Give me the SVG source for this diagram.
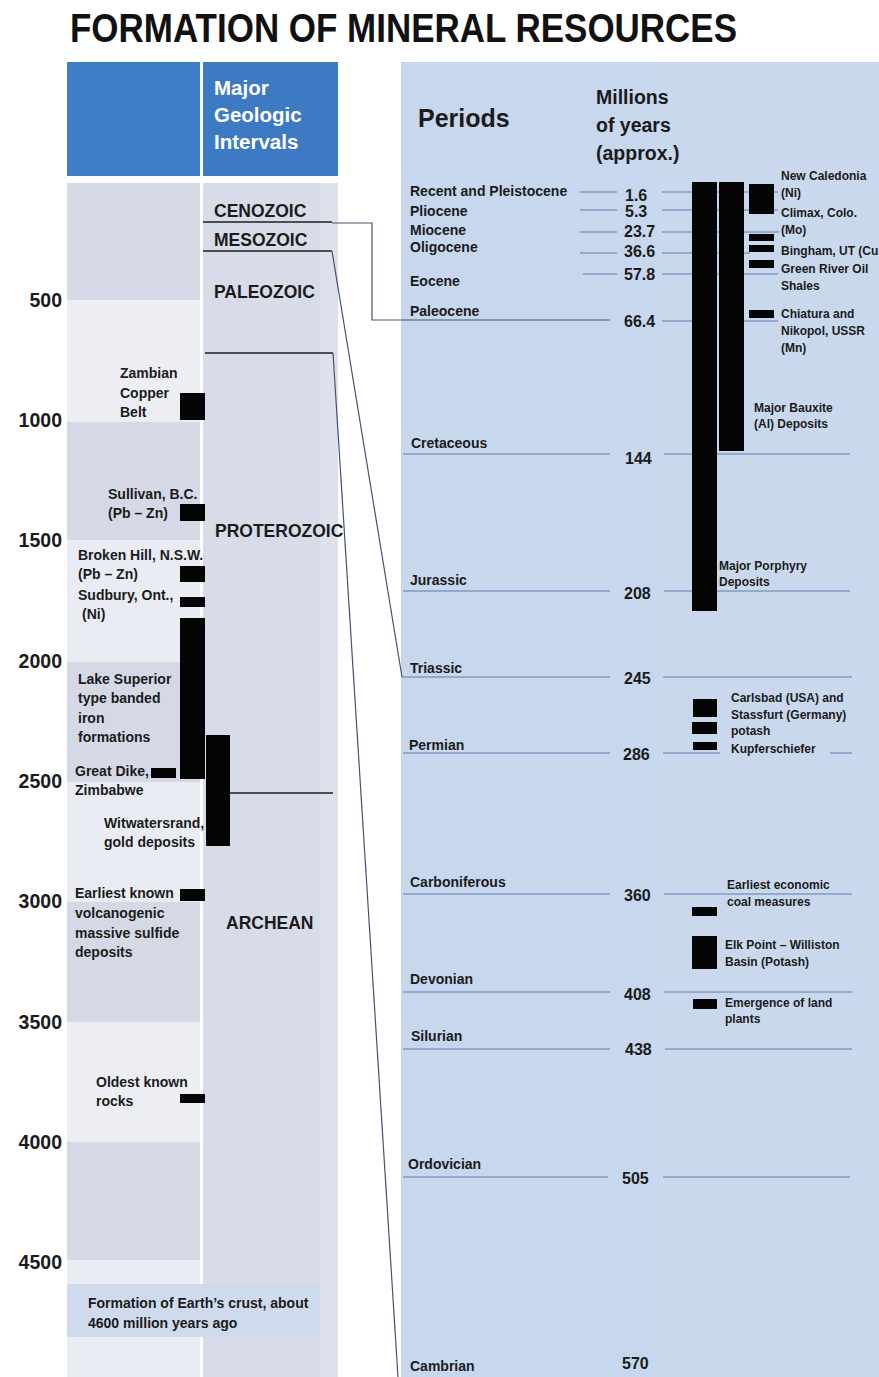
<svg xmlns="http://www.w3.org/2000/svg" width="879" height="1377" viewBox="0 0 879 1377">
<style>
text{font-family:"Liberation Sans",Arial,sans-serif;font-weight:bold;fill:#1b1b1b}
.ttl{font-size:40px;fill:#111}
.hd{font-size:20.5px;fill:#fff}
.ax{font-size:19.5px;text-anchor:end}
.era{font-size:17.5px}
.lab{font-size:14px}
.per{font-size:14px}
.num{font-size:16px}
.rl{font-size:12px}
.big{font-size:25px}
.my{font-size:19.5px}
.bar{fill:#050505}
.pl{stroke:#5f7bab;stroke-width:1.2;fill:none}
.el{stroke:#1e1e1e;stroke-width:1.3;fill:none}
.cn{stroke:#44546e;stroke-width:1.2;fill:none}
</style>
<rect x="0" y="0" width="879" height="1377" fill="#ffffff"/>

<g id="title"><text class="ttl" x="70" y="42" textLength="667" lengthAdjust="spacingAndGlyphs">FORMATION OF MINERAL RESOURCES</text></g>

<g id="left-panel">
<rect x="67" y="62" width="133" height="114" fill="#3f7dc6"/>
<rect x="203" y="62" width="135" height="114" fill="#3d7ac3"/>
<text class="hd" x="214" y="95">Major</text>
<text class="hd" x="214" y="122">Geologic</text>
<text class="hd" x="214" y="149">Intervals</text>
<rect x="67" y="183" width="133" height="117" fill="#d5dae6"/>
<rect x="67" y="300" width="133" height="122" fill="#eceef3"/>
<rect x="67" y="422" width="133" height="118" fill="#d4d9e5"/>
<rect x="67" y="540" width="133" height="122" fill="#e9ecf2"/>
<rect x="67" y="662" width="133" height="120" fill="#d4d9e5"/>
<rect x="67" y="782" width="133" height="120" fill="#e9ecf2"/>
<rect x="67" y="902" width="133" height="120" fill="#d4d9e5"/>
<rect x="67" y="1022" width="133" height="120" fill="#eceef3"/>
<rect x="67" y="1142" width="133" height="118" fill="#d4d9e5"/>
<rect x="67" y="1260" width="133" height="117" fill="#e9ecf2"/>
<rect x="203" y="183" width="117" height="1194" fill="#d8dbe8"/>
<rect x="320" y="183" width="18" height="1194" fill="#dde1ec"/>
<rect x="67" y="1284" width="253" height="53" fill="#cfdbec"/>
</g>

<g id="left-axis">
<text class="ax" x="62" y="307">500</text>
<text class="ax" x="62" y="427">1000</text>
<text class="ax" x="62" y="547">1500</text>
<text class="ax" x="62" y="668">2000</text>
<text class="ax" x="62" y="788">2500</text>
<text class="ax" x="62" y="908">3000</text>
<text class="ax" x="62" y="1029">3500</text>
<text class="ax" x="62" y="1149">4000</text>
<text class="ax" x="62" y="1269">4500</text>
</g>

<g id="eras">
<text class="era" x="214" y="217">CENOZOIC</text>
<text class="era" x="214" y="246">MESOZOIC</text>
<text class="era" x="214" y="298">PALEOZOIC</text>
<text class="era" x="215" y="537">PROTEROZOIC</text>
<text class="era" x="226" y="929">ARCHEAN</text>
<path class="el" d="M205 353H333"/>
<path class="el" d="M230 793H333"/>
</g>

<g id="dep-zambian"><rect class="bar" x="180" y="393" width="25" height="27"/>
<text class="lab" x="120" y="378">Zambian</text><text class="lab" x="120" y="398">Copper</text><text class="lab" x="120" y="417">Belt</text></g>
<g id="dep-sullivan"><rect class="bar" x="180" y="504" width="25" height="17"/>
<text class="lab" x="108" y="499">Sullivan, B.C.</text><text class="lab" x="108" y="518">(Pb – Zn)</text></g>
<g id="dep-brokenhill"><rect class="bar" x="180" y="566" width="25" height="16"/>
<text class="lab" x="78" y="560">Broken Hill, N.S.W.</text><text class="lab" x="78" y="579">(Pb – Zn)</text></g>
<g id="dep-sudbury"><rect class="bar" x="180" y="597" width="25" height="10"/>
<text class="lab" x="78" y="600">Sudbury, Ont.,</text><text class="lab" x="82" y="619">(Ni)</text></g>
<g id="dep-lakesuperior"><rect class="bar" x="180" y="618" width="25" height="161"/>
<text class="lab" x="78" y="684">Lake Superior</text><text class="lab" x="78" y="703">type banded</text><text class="lab" x="78" y="723">iron</text><text class="lab" x="78" y="742">formations</text></g>
<g id="dep-greatdike"><rect class="bar" x="151" y="768" width="25" height="10"/>
<text class="lab" x="75" y="776">Great Dike,</text><text class="lab" x="75" y="795">Zimbabwe</text></g>
<g id="dep-witwatersrand"><rect class="bar" x="206" y="735" width="24" height="111"/>
<text class="lab" x="104" y="828">Witwatersrand,</text><text class="lab" x="104" y="847">gold deposits</text></g>
<g id="dep-vms"><rect class="bar" x="180" y="889" width="25" height="12"/>
<text class="lab" x="75" y="898">Earliest known</text><text class="lab" x="75" y="918">volcanogenic</text><text class="lab" x="75" y="938">massive sulfide</text><text class="lab" x="75" y="957">deposits</text></g>
<g id="dep-oldest"><rect class="bar" x="180" y="1094" width="25" height="9"/>
<text class="lab" x="96" y="1087">Oldest known</text><text class="lab" x="96" y="1106">rocks</text></g>
<g id="crust"><text class="lab" x="88" y="1308">Formation of Earth’s crust, about</text><text class="lab" x="88" y="1328">4600 million years ago</text></g>

<g id="right-panel">
<rect x="401" y="62" width="254" height="1315" fill="#c7d7ee"/>
<rect x="655" y="62" width="224" height="1315" fill="#cad8ed"/>
<text class="big" x="418" y="127">Periods</text>
<text class="my" x="596" y="104">Millions</text>
<text class="my" x="596" y="132">of years</text>
<text class="my" x="596" y="160">(approx.)</text>
</g>

<g id="period-lines">
<path class="pl" d="M580 192H617M662 192H778"/>
<path class="pl" d="M580 210H617M662 210H778"/>
<path class="pl" d="M580 232H617M662 232H779"/>
<path class="pl" d="M580 253H617M662 253H750"/>
<path class="pl" d="M583 274H617M662 274H778"/>
<path class="pl" d="M662 321H692M743 321H778"/>
<path class="pl" d="M403 454H610M664 454H850"/>
<path class="pl" d="M403 591H610M664 591H850"/>
<path class="pl" d="M402 677H610M663 677H852"/>
<path class="pl" d="M403 753H610M663 753H720M830 753H852"/>
<path class="pl" d="M403 894H610M664 894H852"/>
<path class="pl" d="M403 992H610M664 992H852"/>
<path class="pl" d="M403 1049H610M665 1049H852"/>
<path class="pl" d="M403 1177H608M663 1177H850"/>
</g>

<g id="connectors">
<path class="el" d="M203 222H332"/>
<path class="cn" d="M332 223H372V320H610"/>
<path class="el" d="M203 251H332"/>
<path class="cn" d="M332 251L402 677"/>
<path class="cn" d="M333 353L398 1377"/>
</g>

<g id="periods">
<g id="p-recent"><text class="per" x="410" y="196">Recent and Pleistocene</text><text class="num" x="625" y="201">1.6</text></g>
<g id="p-pliocene"><text class="per" x="410" y="216">Pliocene</text><text class="num" x="625" y="217">5.3</text></g>
<g id="p-miocene"><text class="per" x="410" y="235">Miocene</text><text class="num" x="624" y="237">23.7</text></g>
<g id="p-oligocene"><text class="per" x="410" y="252">Oligocene</text><text class="num" x="624" y="257">36.6</text></g>
<g id="p-eocene"><text class="per" x="410" y="286">Eocene</text><text class="num" x="624" y="280">57.8</text></g>
<g id="p-paleocene"><text class="per" x="410" y="316">Paleocene</text><text class="num" x="624" y="327">66.4</text></g>
<g id="p-cretaceous"><text class="per" x="411" y="448">Cretaceous</text><text class="num" x="625" y="464">144</text></g>
<g id="p-jurassic"><text class="per" x="410" y="585">Jurassic</text><text class="num" x="624" y="599">208</text></g>
<g id="p-triassic"><text class="per" x="410" y="673">Triassic</text><text class="num" x="624" y="684">245</text></g>
<g id="p-permian"><text class="per" x="409" y="750">Permian</text><text class="num" x="623" y="760">286</text></g>
<g id="p-carboniferous"><text class="per" x="410" y="887">Carboniferous</text><text class="num" x="624" y="901">360</text></g>
<g id="p-devonian"><text class="per" x="410" y="984">Devonian</text><text class="num" x="624" y="1000">408</text></g>
<g id="p-silurian"><text class="per" x="411" y="1041">Silurian</text><text class="num" x="625" y="1055">438</text></g>
<g id="p-ordovician"><text class="per" x="408" y="1169">Ordovician</text><text class="num" x="622" y="1184">505</text></g>
<g id="p-cambrian"><text class="per" x="410" y="1371">Cambrian</text><text class="num" x="622" y="1369">570</text></g>
</g>

<g id="r-porphyry"><rect class="bar" x="692" y="182" width="25" height="429"/>
<text class="rl" x="719" y="570">Major Porphyry</text><text class="rl" x="719" y="586">Deposits</text></g>
<g id="r-bauxite"><rect class="bar" x="719" y="182" width="25" height="269"/>
<text class="rl" x="754" y="412">Major Bauxite</text><text class="rl" x="754" y="428">(Al) Deposits</text></g>
<g id="r-newcaledonia"><rect class="bar" x="749" y="184" width="25" height="30"/>
<text class="rl" x="781" y="180">New Caledonia</text><text class="rl" x="781" y="197">(Ni)</text></g>
<g id="r-climax"><rect class="bar" x="749" y="234" width="25" height="7"/>
<text class="rl" x="781" y="217">Climax, Colo.</text><text class="rl" x="781" y="234">(Mo)</text></g>
<g id="r-bingham"><rect class="bar" x="749" y="245" width="25" height="7"/>
<text class="rl" x="781" y="255">Bingham, UT (Cu</text></g>
<g id="r-greenriver"><rect class="bar" x="749" y="260" width="25" height="8"/>
<text class="rl" x="781" y="273">Green River Oil</text><text class="rl" x="781" y="290">Shales</text></g>
<g id="r-chiatura"><rect class="bar" x="749" y="310" width="25" height="8"/>
<text class="rl" x="781" y="318">Chiatura and</text><text class="rl" x="781" y="335">Nikopol, USSR</text><text class="rl" x="781" y="352">(Mn)</text></g>
<g id="r-carlsbad"><rect class="bar" x="693" y="699" width="24" height="18"/><rect class="bar" x="692" y="722" width="25" height="12"/>
<text class="rl" x="731" y="702">Carlsbad (USA) and</text><text class="rl" x="731" y="719">Stassfurt (Germany)</text><text class="rl" x="731" y="735">potash</text></g>
<g id="r-kupferschiefer"><rect class="bar" x="693" y="742" width="24" height="8"/>
<text class="rl" x="731" y="753">Kupferschiefer</text></g>
<g id="r-coal"><rect class="bar" x="692" y="907" width="25" height="9"/>
<text class="rl" x="727" y="889">Earliest economic</text><text class="rl" x="727" y="906">coal measures</text></g>
<g id="r-elkpoint"><rect class="bar" x="692" y="936" width="25" height="33"/>
<text class="rl" x="725" y="949">Elk Point – Williston</text><text class="rl" x="725" y="966">Basin (Potash)</text></g>
<g id="r-landplants"><rect class="bar" x="693" y="999" width="24" height="10"/>
<text class="rl" x="725" y="1007">Emergence of land</text><text class="rl" x="725" y="1023">plants</text></g>
</svg>
